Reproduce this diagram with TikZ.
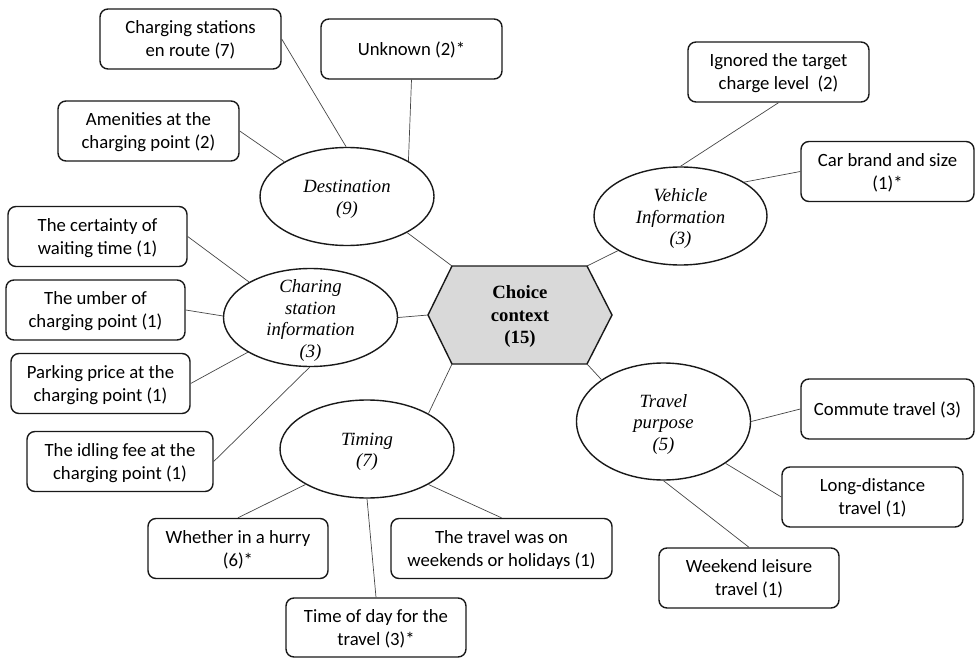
\documentclass[tikz,border=0pt]{standalone}
\usepackage{fontspec}
\setmainfont{Carlito}
\newfontfamily\tnr{Liberation Serif}
\usetikzlibrary{shapes.geometric}
\definecolor{hexfill}{RGB}{217,217,217}
\definecolor{edge}{RGB}{25,25,25}
\definecolor{linkc}{RGB}{70,70,70}
\tikzset{
 leaf/.style={draw=edge, line width=1.4pt, rounded corners=8pt, minimum height=60pt, align=center, font=\fontsize{18.7}{23}\selectfont, inner sep=2pt, text depth=-2pt},
 cat/.style={draw=edge, line width=1.4pt, ellipse, minimum width=174pt, minimum height=98pt, inner sep=0pt},
 cattext/.style={align=center, font=\tnr\itshape\fontsize{18.7}{21.5}\selectfont, inner sep=0pt, yshift=-3pt},
 link/.style={draw=linkc, line width=0.7pt},
}
\begin{document}
\begin{tikzpicture}[x=1pt,y=-1pt]
\useasboundingbox (0,0) rectangle (975,658);
% leaf boxes
\node[leaf, minimum width=181pt] (cs) at (190.5,39) {Charging stations\\en route (7)};
\node[leaf, minimum width=181pt] (unk) at (411.5,49) {Unknown (2)*};
\node[leaf, minimum width=181pt] (amen) at (148.5,131) {Amenities at the\\charging point (2)};
\node[leaf, minimum width=179pt] (cert) at (97.5,236.5) {The certainty of\\waiting time (1)};
\node[leaf, minimum width=179pt] (umb) at (95.5,310) {The umber of\\charging point (1)};
\node[leaf, minimum width=179pt] (park) at (100.5,383.5) {Parking price at the\\charging point (1)};
\node[leaf, minimum width=186pt] (idle) at (120,461.5) {The idling fee at the\\charging point (1)};
\node[leaf, minimum width=180pt] (hurry) at (238,548.5) {Whether in a hurry\\(6)*};
\node[leaf, minimum width=180pt, minimum height=59pt] (tod) at (376,627.5) {Time of day for the\\travel (3)*};
\node[leaf, minimum width=221pt] (wknd) at (501.5,548.5) {The travel was on\\weekends or holidays (1)};
\node[leaf, minimum width=181pt] (ign) at (778.5,72) {Ignored the target\\charge level~ (2)};
\node[leaf, minimum width=173pt] (car) at (887.5,171.5) {Car brand and size\\(1)*};
\node[leaf, minimum width=173pt] (comm) at (887.5,409) {Commute travel (3)};
\node[leaf, minimum width=181pt] (long) at (872.5,497) {Long-distance\\travel (1)};
\node[leaf, minimum width=180pt] (wl) at (749,578) {Weekend leisure\\travel (1)};
% category ellipses
\node[cat] (dest) at (347,196.5) {};
\node[cattext] (destT) at (dest) {Destination\\(9)};
\node[cat] (csi) at (310.5,317.5) {};
\node[cattext] (csiT) at (csi) {Charing\\station\\information\\(3)};
\node[cat, minimum width=173pt] (veh) at (680.5,216) {};
\node[cattext] (vehT) at (veh) {Vehicle\\Information\\(3)};
\node[cat] (tim) at (367,449) {};
\node[cattext] (timT) at (tim) {Timing\\(7)};
\node[cat, minimum height=117pt] (tp) at (663.5,421.5) {};
\node[cattext] (tpT) at (tp) {Travel\\purpose\\(5)};
% central hexagon
\coordinate (hL) at (428,315);
\coordinate (hTL) at (452,266);
\coordinate (hTR) at (587,266);
\coordinate (hR) at (612,315);
\coordinate (hBR) at (587,364);
\coordinate (hBL) at (452,364);
\draw[draw=edge, fill=hexfill, line width=1.4pt] (hL)--(hTL)--(hTR)--(hR)--(hBR)--(hBL)--cycle;
\node[align=center, font=\tnr\bfseries\fontsize{18.7}{22.5}\selectfont, inner sep=0pt, yshift=-2pt] (choice) at (520,315) {Choice\\context\\(15)};
% connectors
\draw[link] (cs.east) -- (dest.91);
\draw[link] (unk.south) -- (dest.30);
\draw[link] (amen.east) -- (dest.151);
\draw[link] (dest.329) -- (hTL);
\draw[link] (cert.east) -- (csi.150);
\draw[link] (umb.east) -- (csi.179);
\draw[link] (park.east) -- (csi.209);
\draw[link] (idle.east) -- (csi.269);
\draw[link] (csi.east) -- (hL);
\draw[link] (ign.south) -- (veh.90);
\draw[link] (car.west) -- (veh.28);
\draw[link] (veh.209) -- (hTR);
\draw[link] (tim.30) -- (hBL);
\draw[link] (tim.210) -- (hurry.north);
\draw[link] (tim.270) -- (tod.north);
\draw[link] (tim.330) -- (wknd.north);
\draw[link] (tp.146) -- (hBR);
\draw[link] (tp.east) -- (comm.west);
\draw[link] (tp.326) -- (long.west);
\draw[link] (tp.270) -- (wl.north);
\end{tikzpicture}
\end{document}
